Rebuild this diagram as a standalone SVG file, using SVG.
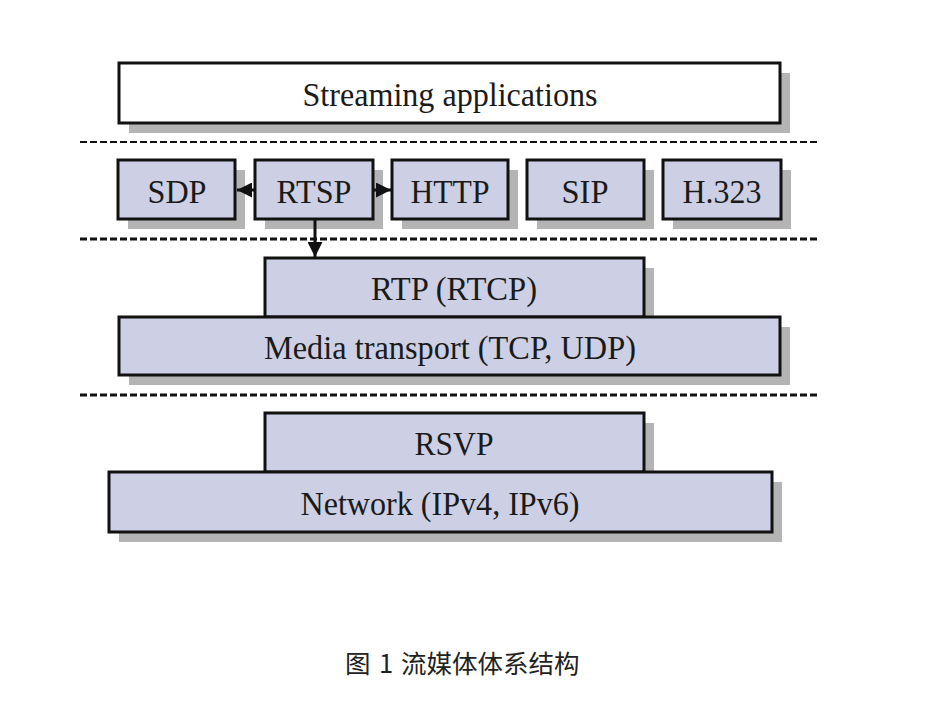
<svg xmlns="http://www.w3.org/2000/svg" width="938" height="708" viewBox="0 0 938 708">
<defs>
<style>
.box{fill:#cdd0e4;stroke:#111;stroke-width:3}
.wbox{fill:#fff;stroke:#111;stroke-width:3}
.sh{fill:#b4b4b4}
.t{font-family:"Liberation Serif","Times New Roman",serif;font-size:34px;fill:#1a1a1a;text-anchor:middle}
.dash{stroke:#111;stroke-dasharray:7 3;fill:none}
.con{stroke:#111;stroke-width:3;fill:none}
.cap{font-family:"Noto Sans CJK SC","Noto Sans",sans-serif;font-size:25.5px;fill:#222}
</style>
<marker id="ah" viewBox="0 0 10 10" refX="10" refY="5" markerWidth="5" markerHeight="5" markerUnits="strokeWidth" orient="auto">
<path d="M0,0 L10,5 L0,10 z" fill="#111"/>
</marker>
</defs>
<rect width="938" height="708" fill="#fff"/>
<g id="separators">
<line class="dash" x1="80" y1="142" x2="818" y2="142" stroke-width="2"/>
<line class="dash" x1="80" y1="239" x2="818" y2="239" stroke-width="3"/>
<line class="dash" x1="80" y1="395" x2="818" y2="395" stroke-width="3"/>
</g>
<g id="streaming">
<rect class="sh" x="129" y="73" width="661" height="60"/>
<rect class="wbox" x="119" y="63" width="661" height="60"/>
<text class="t" x="450" y="106" textLength="295" lengthAdjust="spacingAndGlyphs">Streaming applications</text>
</g>
<g id="sdp">
<rect class="sh" x="128" y="170" width="117" height="59"/>
<rect class="box" x="118" y="160" width="117" height="59"/>
<text class="t" x="177" y="203" textLength="59" lengthAdjust="spacingAndGlyphs">SDP</text>
</g>
<g id="rtsp">
<rect class="sh" x="265" y="170" width="118" height="59"/>
<rect class="box" x="255" y="160" width="118" height="59"/>
<text class="t" x="314" y="203" textLength="75" lengthAdjust="spacingAndGlyphs">RTSP</text>
</g>
<g id="http">
<rect class="sh" x="402" y="170" width="116" height="59"/>
<rect class="box" x="392" y="160" width="116" height="59"/>
<text class="t" x="450" y="203" textLength="79" lengthAdjust="spacingAndGlyphs">HTTP</text>
</g>
<g id="sip">
<rect class="sh" x="537" y="170" width="117" height="59"/>
<rect class="box" x="527" y="160" width="117" height="59"/>
<text class="t" x="585" y="203" textLength="47" lengthAdjust="spacingAndGlyphs">SIP</text>
</g>
<g id="h323">
<rect class="sh" x="673" y="170" width="118" height="59"/>
<rect class="box" x="663" y="160" width="118" height="59"/>
<text class="t" x="722" y="203" textLength="79" lengthAdjust="spacingAndGlyphs">H.323</text>
</g>
<g id="rtp">
<rect class="sh" x="275" y="268" width="379" height="59"/>
<rect class="box" x="265" y="258" width="379" height="59"/>
<text class="t" x="454" y="300" textLength="166" lengthAdjust="spacingAndGlyphs">RTP (RTCP)</text>
</g>
<g id="media">
<rect class="sh" x="129" y="327" width="661" height="58"/>
<rect class="box" x="119" y="317" width="661" height="58"/>
<text class="t" x="450" y="359" textLength="372" lengthAdjust="spacingAndGlyphs">Media transport (TCP, UDP)</text>
</g>
<g id="rsvp">
<rect class="sh" x="275" y="423" width="379" height="59"/>
<rect class="box" x="265" y="413" width="379" height="59"/>
<text class="t" x="454" y="455" textLength="79" lengthAdjust="spacingAndGlyphs">RSVP</text>
</g>
<g id="network">
<rect class="sh" x="119" y="482" width="663" height="60"/>
<rect class="box" x="109" y="472" width="663" height="60"/>
<text class="t" x="440" y="515" textLength="279" lengthAdjust="spacingAndGlyphs">Network (IPv4, IPv6)</text>
</g>
<g id="connectors">
<line class="con" x1="255" y1="190" x2="237" y2="190" marker-end="url(#ah)"/>
<line class="con" x1="373" y1="190" x2="391" y2="190" marker-end="url(#ah)"/>
<line class="con" x1="315" y1="219" x2="315" y2="257" marker-end="url(#ah)"/>
</g>
<text class="cap" y="673"><tspan x="345">图</tspan><tspan x="379">1</tspan><tspan x="401">流媒体体系结构</tspan></text>
</svg>
